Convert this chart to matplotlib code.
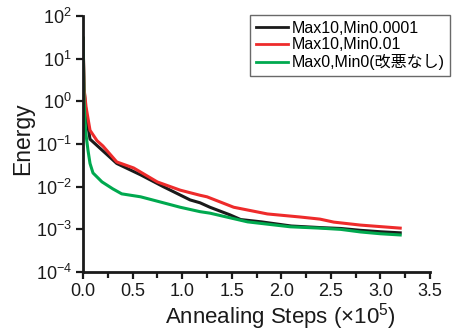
import numpy as np
import matplotlib
matplotlib.use("Agg")
import matplotlib.pyplot as plt
from matplotlib.ticker import LogLocator, NullLocator, MultipleLocator, FormatStrFormatter

# ── data (x in units of 1e5 annealing steps) ─────────────────────────────────
x_black = [0, 0.01, 0.03, 0.07, 0.17, 0.34, 0.58, 0.81, 1.08, 1.18, 1.28,
           1.48, 1.59, 1.8, 2.1, 2.4, 2.6, 2.8, 3.0, 3.2]
e_black = [30, 2.0, 0.5, 0.13, 0.08, 0.035, 0.019, 0.010, 0.0049, 0.0042,
           0.0033, 0.0022, 0.0017, 0.0015, 0.0012, 0.0011, 0.00105, 0.00095,
           0.00088, 0.00083]

x_red = [0, 0.01, 0.03, 0.07, 0.14, 0.2, 0.34, 0.51, 0.75, 0.98, 1.18, 1.25,
         1.52, 1.86, 2.19, 2.39, 2.53, 2.8, 3.2]
e_red = [30, 2.0, 0.74, 0.21, 0.12, 0.09, 0.038, 0.0275, 0.0129, 0.0083,
         0.0063, 0.0058, 0.0033, 0.0023, 0.00195, 0.00174, 0.00148, 0.00126,
         0.00107]

x_green = [0, 0.01, 0.025, 0.05, 0.07, 0.1, 0.19, 0.3, 0.39, 0.58, 0.81,
           0.98, 1.18, 1.28, 1.66, 2.09, 2.39, 2.6, 2.8, 3.0, 3.2]
e_green = [30, 1.0, 0.2, 0.07, 0.035, 0.021, 0.013, 0.0089, 0.0068, 0.0058,
           0.0042, 0.0033, 0.0026, 0.0024, 0.0015, 0.00115, 0.00107, 0.0010,
           0.00087, 0.00079, 0.00074]

labels = ["Max10,Min0.0001", "Max10,Min0.01", "Max0,Min0(改悪なし)"]
colors = ["#1a1a1a", "#ee2b2b", "#00a94f"]

# ── figure ──────────────────────────────────────────────────────────────────
plt.rcParams.update({
    "font.family": ["Liberation Sans", "Noto Sans CJK JP", "DejaVu Sans"],
    "mathtext.fontset": "custom",
    "mathtext.rm": "Liberation Sans",
    "mathtext.it": "Liberation Sans",
    "axes.unicode_minus": True,
})

fig = plt.figure(figsize=(4.54, 3.33), dpi=100)
ax = fig.add_axes([0.183, 0.183, 0.764, 0.769])

series = [(x_black, e_black), (x_red, e_red), (x_green, e_green)]
for (xs, ys), lab, c in zip(series, labels, colors):
    ax.plot(xs, ys, color=c, lw=2.2, label=lab, solid_joinstyle="round")

ax.set_yscale("log")
ax.set_ylim(1e-4, 1e2)
ax.set_xlim(0, 3.5)
ax.yaxis.set_major_locator(LogLocator(base=10, numticks=10))
ax.yaxis.set_minor_locator(NullLocator())
ax.xaxis.set_major_locator(MultipleLocator(0.5))
ax.xaxis.set_minor_locator(MultipleLocator(0.25))
ax.xaxis.set_major_formatter(FormatStrFormatter("%.1f"))

for side, sp in ax.spines.items():
    sp.set_visible(side in ("left", "bottom"))
    sp.set_linewidth(2.0)
    sp.set_color("#1a1a1a")
ax.tick_params(which="both", direction="out", width=1.6, color="#1a1a1a",
               labelsize=13, labelcolor="#1a1a1a")
ax.tick_params(which="major", length=5, pad=3)
ax.tick_params(which="minor", length=4)

ax.set_xlabel("Annealing Steps (×10$^{5}$)", fontsize=16, color="#1a1a1a")
ax.xaxis.set_label_coords(0.568, -0.115)
ax.set_ylabel("Energy", fontsize=16.5, color="#1a1a1a")
ax.yaxis.set_label_coords(-0.14, 0.52)

leg = ax.legend(loc="upper right", bbox_to_anchor=(0.992, 0.955),
                bbox_transform=fig.transFigure, fontsize=11.5, frameon=True,
                fancybox=False, handlelength=2.0, handletextpad=0.25,
                labelspacing=0.12, borderpad=0.35, borderaxespad=0)
leg.get_frame().set_edgecolor("#444444")
leg.get_frame().set_linewidth(1.0)
for line in leg.get_lines():
    line.set_linewidth(2.0)

fig.savefig("out.png", dpi=100)
